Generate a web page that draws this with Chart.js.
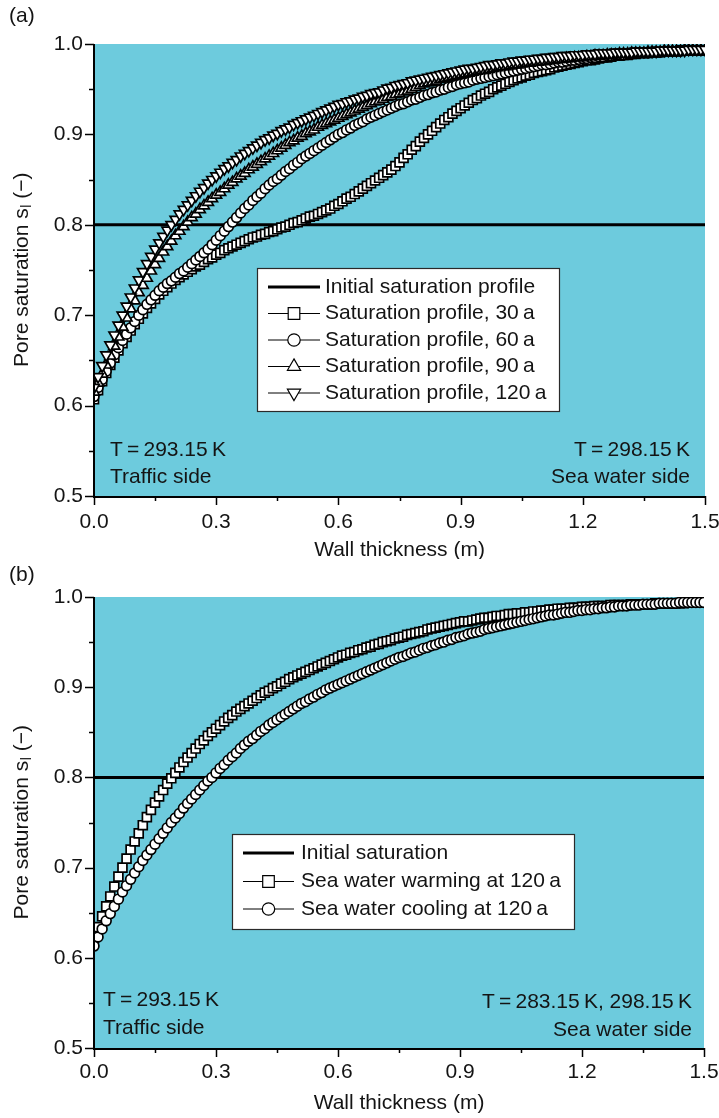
<!DOCTYPE html>
<html>
<head>
<meta charset="utf-8">
<title>Pore saturation profiles across the wall</title>
<script src="https://cdn.jsdelivr.net/npm/chart.js@4.4.1/dist/chart.umd.min.js"></script>
<style>
  html, body { margin: 0; padding: 0; background: #ffffff; }
  canvas { display: block; }
</style>
</head>
<body>
<canvas id="panelA" width="719" height="559"></canvas>
<canvas id="panelB" width="719" height="559"></canvas>
<script>
// Wall depth (m) of the computed profile nodes, traffic side = 0
const depth = [
  0.00,0.01,0.02,0.03,0.04,0.05,0.06,0.07,0.08,0.09,
  0.10,0.11,0.12,0.13,0.14,0.15,0.16,0.17,0.18,0.19,
  0.20,0.21,0.22,0.23,0.24,0.25,0.26,0.27,0.28,0.29,
  0.30,0.31,0.32,0.33,0.34,0.35,0.36,0.37,0.38,0.39,
  0.40,0.41,0.42,0.43,0.44,0.45,0.46,0.47,0.48,0.49,
  0.50,0.51,0.52,0.53,0.54,0.55,0.56,0.57,0.58,0.59,
  0.60,0.61,0.62,0.63,0.64,0.65,0.66,0.67,0.68,0.69,
  0.70,0.71,0.72,0.73,0.74,0.75,0.76,0.77,0.78,0.79,
  0.80,0.81,0.82,0.83,0.84,0.85,0.86,0.87,0.88,0.89,
  0.90,0.91,0.92,0.93,0.94,0.95,0.96,0.97,0.98,0.99,
  1.00,1.01,1.02,1.03,1.04,1.05,1.06,1.07,1.08,1.09,
  1.10,1.11,1.12,1.13,1.14,1.15,1.16,1.17,1.18,1.19,
  1.20,1.21,1.22,1.23,1.24,1.25,1.26,1.27,1.28,1.29,
  1.30,1.31,1.32,1.33,1.34,1.35,1.36,1.37,1.38,1.39,
  1.40,1.41,1.42,1.43,1.44,1.45,1.46,1.47,1.48,1.49,
  1.50
];

// Initial (uniform) saturation profile
const initialDepth = [0, 1.5];
const initialLevel = [0.8, 0.8];

// (a) saturation profiles after 30, 60, 90 and 120 years
const sat30 = [
  0.607,0.617,0.627,0.636,0.645,0.653,0.661,0.669,0.676,0.683,
  0.690,0.696,0.702,0.708,0.713,0.718,0.723,0.727,0.731,0.735,
  0.739,0.742,0.745,0.748,0.751,0.754,0.756,0.759,0.762,0.764,
  0.767,0.769,0.772,0.774,0.776,0.778,0.780,0.782,0.784,0.786,
  0.787,0.789,0.790,0.792,0.793,0.795,0.797,0.798,0.800,0.802,
  0.803,0.805,0.807,0.809,0.810,0.812,0.814,0.816,0.818,0.821,
  0.823,0.826,0.829,0.831,0.834,0.837,0.840,0.843,0.846,0.849,
  0.852,0.855,0.858,0.861,0.865,0.869,0.874,0.878,0.883,0.887,
  0.892,0.896,0.900,0.904,0.908,0.912,0.916,0.919,0.923,0.926,
  0.929,0.932,0.935,0.938,0.940,0.943,0.945,0.947,0.950,0.952,
  0.954,0.956,0.958,0.960,0.962,0.963,0.965,0.966,0.968,0.969,
  0.970,0.971,0.972,0.974,0.975,0.976,0.977,0.978,0.979,0.980,
  0.981,0.982,0.982,0.983,0.984,0.985,0.985,0.986,0.987,0.987,
  0.988,0.988,0.989,0.989,0.990,0.990,0.990,0.991,0.991,0.991,
  0.992,0.992,0.992,0.992,0.993,0.993,0.993,0.993,0.993,0.993,
  0.993
];
const sat60 = [
  0.610,0.620,0.629,0.638,0.647,0.656,0.664,0.672,0.679,0.686,
  0.693,0.700,0.706,0.712,0.717,0.722,0.727,0.731,0.735,0.738,
  0.742,0.746,0.749,0.753,0.757,0.761,0.765,0.769,0.773,0.778,
  0.783,0.788,0.793,0.798,0.803,0.808,0.813,0.818,0.822,0.827,
  0.831,0.835,0.840,0.844,0.848,0.851,0.855,0.859,0.862,0.866,
  0.869,0.873,0.876,0.879,0.882,0.885,0.888,0.891,0.894,0.897,
  0.900,0.902,0.905,0.907,0.910,0.912,0.914,0.917,0.919,0.921,
  0.923,0.925,0.927,0.929,0.931,0.933,0.934,0.936,0.938,0.939,
  0.941,0.943,0.944,0.946,0.947,0.949,0.950,0.952,0.953,0.955,
  0.956,0.957,0.958,0.960,0.961,0.962,0.963,0.964,0.965,0.966,
  0.967,0.968,0.969,0.970,0.971,0.972,0.973,0.974,0.975,0.976,
  0.977,0.977,0.978,0.979,0.980,0.980,0.981,0.982,0.982,0.983,
  0.984,0.984,0.985,0.985,0.986,0.986,0.987,0.987,0.988,0.988,
  0.988,0.989,0.989,0.990,0.990,0.990,0.990,0.991,0.991,0.991,
  0.992,0.992,0.992,0.992,0.992,0.993,0.993,0.993,0.993,0.993,
  0.993
];
const sat90 = [
  0.615,0.625,0.635,0.645,0.655,0.666,0.676,0.687,0.697,0.707,
  0.716,0.725,0.733,0.741,0.749,0.756,0.763,0.770,0.776,0.782,
  0.788,0.793,0.798,0.803,0.808,0.812,0.817,0.821,0.825,0.829,
  0.833,0.836,0.840,0.844,0.847,0.851,0.854,0.857,0.861,0.864,
  0.867,0.870,0.873,0.876,0.879,0.882,0.885,0.888,0.891,0.893,
  0.896,0.898,0.901,0.903,0.905,0.908,0.910,0.912,0.914,0.916,
  0.918,0.920,0.922,0.924,0.926,0.928,0.930,0.932,0.934,0.936,
  0.937,0.939,0.941,0.942,0.944,0.945,0.947,0.948,0.950,0.952,
  0.954,0.956,0.957,0.958,0.959,0.961,0.962,0.963,0.964,0.965,
  0.966,0.967,0.968,0.969,0.970,0.971,0.971,0.972,0.973,0.974,
  0.975,0.975,0.976,0.977,0.977,0.978,0.979,0.979,0.980,0.980,
  0.981,0.981,0.982,0.982,0.983,0.983,0.984,0.984,0.985,0.985,
  0.985,0.986,0.986,0.987,0.987,0.987,0.988,0.988,0.988,0.989,
  0.989,0.989,0.990,0.990,0.990,0.990,0.991,0.991,0.991,0.991,
  0.992,0.992,0.992,0.992,0.992,0.993,0.993,0.993,0.993,0.993,
  0.993
];
const sat120 = [
  0.620,0.632,0.644,0.656,0.667,0.678,0.689,0.700,0.710,0.720,
  0.730,0.739,0.748,0.757,0.765,0.773,0.780,0.787,0.794,0.800,
  0.806,0.812,0.817,0.822,0.827,0.832,0.837,0.841,0.846,0.850,
  0.854,0.858,0.862,0.865,0.869,0.872,0.876,0.879,0.882,0.885,
  0.888,0.891,0.894,0.896,0.899,0.901,0.904,0.906,0.908,0.911,
  0.913,0.915,0.917,0.919,0.921,0.923,0.925,0.927,0.929,0.931,
  0.933,0.934,0.936,0.937,0.939,0.940,0.942,0.943,0.945,0.946,
  0.947,0.949,0.951,0.952,0.954,0.955,0.956,0.957,0.959,0.960,
  0.961,0.962,0.963,0.964,0.965,0.966,0.967,0.968,0.969,0.970,
  0.971,0.972,0.973,0.973,0.974,0.975,0.976,0.977,0.977,0.978,
  0.979,0.979,0.980,0.981,0.981,0.982,0.982,0.983,0.983,0.984,
  0.984,0.985,0.985,0.986,0.986,0.987,0.987,0.987,0.988,0.988,
  0.988,0.989,0.989,0.989,0.990,0.990,0.990,0.990,0.991,0.991,
  0.991,0.991,0.991,0.992,0.992,0.992,0.992,0.992,0.992,0.993,
  0.993,0.993,0.993,0.993,0.993,0.993,0.994,0.994,0.994,0.994,
  0.994
];

// (b) profiles at 120 years for a warmer and a cooler sea
const satWarming = [
  0.622,0.634,0.646,0.657,0.668,0.679,0.690,0.700,0.710,0.720,
  0.729,0.738,0.747,0.756,0.764,0.772,0.779,0.786,0.793,0.799,
  0.805,0.811,0.817,0.822,0.827,0.832,0.837,0.841,0.846,0.850,
  0.854,0.858,0.862,0.866,0.869,0.873,0.876,0.879,0.882,0.885,
  0.888,0.891,0.894,0.896,0.899,0.901,0.904,0.906,0.909,0.911,
  0.913,0.915,0.917,0.919,0.921,0.923,0.925,0.927,0.929,0.931,
  0.933,0.935,0.936,0.938,0.939,0.941,0.942,0.944,0.945,0.947,
  0.948,0.950,0.951,0.952,0.954,0.955,0.956,0.958,0.959,0.960,
  0.961,0.962,0.964,0.965,0.966,0.967,0.968,0.969,0.970,0.971,
  0.972,0.973,0.973,0.974,0.975,0.976,0.977,0.977,0.978,0.979,
  0.979,0.980,0.981,0.981,0.982,0.982,0.983,0.983,0.984,0.984,
  0.985,0.985,0.986,0.986,0.987,0.987,0.987,0.988,0.988,0.988,
  0.989,0.989,0.989,0.990,0.990,0.990,0.990,0.991,0.991,0.991,
  0.991,0.991,0.992,0.992,0.992,0.992,0.992,0.992,0.993,0.993,
  0.993,0.993,0.993,0.993,0.993,0.993,0.994,0.994,0.994,0.994,
  0.994
];
const satCooling = [
  0.613,0.623,0.632,0.641,0.649,0.657,0.665,0.673,0.680,0.687,
  0.694,0.701,0.708,0.714,0.720,0.726,0.732,0.738,0.744,0.750,
  0.755,0.760,0.766,0.771,0.776,0.781,0.786,0.791,0.796,0.800,
  0.805,0.810,0.814,0.819,0.823,0.827,0.832,0.836,0.840,0.843,
  0.847,0.851,0.854,0.858,0.861,0.864,0.867,0.870,0.873,0.876,
  0.879,0.882,0.884,0.887,0.889,0.892,0.894,0.897,0.899,0.901,
  0.903,0.905,0.907,0.909,0.911,0.913,0.915,0.917,0.919,0.921,
  0.923,0.925,0.927,0.929,0.931,0.933,0.934,0.936,0.938,0.939,
  0.941,0.943,0.944,0.946,0.947,0.949,0.950,0.952,0.953,0.955,
  0.956,0.957,0.959,0.960,0.961,0.962,0.964,0.965,0.966,0.967,
  0.968,0.969,0.970,0.971,0.972,0.973,0.974,0.975,0.976,0.977,
  0.978,0.979,0.980,0.980,0.981,0.982,0.983,0.983,0.984,0.985,
  0.985,0.986,0.986,0.987,0.987,0.988,0.988,0.989,0.989,0.990,
  0.990,0.990,0.991,0.991,0.991,0.992,0.992,0.992,0.992,0.993,
  0.993,0.993,0.993,0.993,0.994,0.994,0.994,0.994,0.994,0.994,
  0.994
];

// Axis ranges and tick steps
const xRange = [0, 1.5];
const yRange = [0.5, 1.0];
const xMinorStep = 0.15, xMajorStep = 0.3;
const yMinorStep = 0.05, yMajorStep = 0.1;

const FONT = "'Liberation Sans', Arial, Helvetica, sans-serif";
const INK = '#141414';
const PLOT_BG = '#6dcbdd';
const TS = '\u2009'; // thin space

const MARK = {
  square:   { pointStyle: 'rect',     rotation: 0,   r: 6.3, legendR: 8.2 },
  circle:   { pointStyle: 'circle',   rotation: 0,   r: 4.9, legendR: 6.2 },
  triUp:    { pointStyle: 'triangle', rotation: 0,   r: 6.2, legendR: 7.6 },
  triDown:  { pointStyle: 'triangle', rotation: 180, r: 6.2, legendR: 7.6 }
};

function xy(xs, ys) { return xs.map((x, i) => ({ x: x, y: ys[i] })); }

function profile(label, ys, mark, order) {
  return {
    label: label,
    data: xy(depth, ys),
    order: order,
    borderColor: '#000',
    borderWidth: 1,
    tension: 0,
    pointStyle: mark.pointStyle,
    pointRotation: mark.rotation,
    pointRadius: mark.r,
    pointHoverRadius: mark.r,
    pointBackgroundColor: '#ffffff',
    pointBorderColor: '#000',
    pointBorderWidth: 1.7
  };
}

function initialProfile(label) {
  return {
    label: label,
    data: xy(initialDepth, initialLevel),
    order: 10,
    borderColor: '#000',
    borderWidth: 3,
    pointRadius: 0,
    pointHoverRadius: 0
  };
}

function isMultiple(v, step) {
  const q = v / step;
  return Math.abs(q - Math.round(q)) < 1e-6;
}

// Plot background, axes with major/minor ticks, axis titles, legend and notes
function decorations(spec) {
  return {
    id: 'decor' + spec.letter,
    beforeDatasetsDraw(chart) {
      const a = chart.chartArea, ctx = chart.ctx;
      ctx.save();
      ctx.fillStyle = PLOT_BG;
      ctx.fillRect(a.left, a.top, a.right - a.left, a.bottom - a.top);
      ctx.restore();
    },
    afterDraw(chart) {
      const a = chart.chartArea, ctx = chart.ctx;
      const sx = chart.scales.x, sy = chart.scales.y;
      ctx.save();

      // axis lines
      ctx.strokeStyle = '#000';
      ctx.lineWidth = 2;
      ctx.beginPath();
      ctx.moveTo(a.left, a.top);
      ctx.lineTo(a.left, a.bottom + 1);
      ctx.lineTo(a.right, a.bottom + 1);
      ctx.stroke();

      // tick marks
      ctx.lineWidth = 1.5;
      ctx.beginPath();
      sy.ticks.forEach(t => {
        const p = Math.round(sy.getPixelForValue(t.value)) + 0.5;
        const len = isMultiple(t.value, yMajorStep) ? 9 : 5;
        ctx.moveTo(a.left - len, p);
        ctx.lineTo(a.left, p);
      });
      sx.ticks.forEach(t => {
        const p = Math.round(sx.getPixelForValue(t.value)) + 0.5;
        const len = isMultiple(t.value, xMajorStep) ? 9 : 5;
        ctx.moveTo(p, a.bottom);
        ctx.lineTo(p, a.bottom + len);
      });
      ctx.stroke();

      ctx.fillStyle = INK;
      ctx.textBaseline = 'middle';

      // panel letter
      ctx.font = '21px ' + FONT;
      ctx.textAlign = 'left';
      ctx.fillText('(' + spec.letter + ')', 9, 16);

      // x axis title
      ctx.textAlign = 'center';
      ctx.fillText('Wall thickness (m)', (a.left + a.right) / 2, a.bottom + spec.xTitleGap);

      // y axis title with subscript
      ctx.save();
      ctx.translate(22, (a.top + a.bottom) / 2);
      ctx.rotate(-Math.PI / 2);
      const p1 = 'Pore saturation s', p2 = 'l', p3 = ' (\u2212)';
      ctx.font = '21px ' + FONT;
      const w1 = ctx.measureText(p1).width, w3 = ctx.measureText(p3).width;
      ctx.font = '14px ' + FONT;
      const w2 = ctx.measureText(p2).width;
      let x0 = -(w1 + w2 + w3) / 2;
      ctx.textAlign = 'left';
      ctx.font = '21px ' + FONT;
      ctx.fillText(p1, x0, 0);
      ctx.font = '14px ' + FONT;
      ctx.fillText(p2, x0 + w1 + 0.5, 5);
      ctx.font = '21px ' + FONT;
      ctx.fillText(p3, x0 + w1 + w2 + 0.5, 0);
      ctx.restore();

      // side notes
      ctx.font = '21px ' + FONT;
      spec.notes.forEach(n => {
        ctx.textAlign = n.align;
        ctx.fillText(n.text, n.x, n.y);
      });

      // legend
      const L = spec.legend;
      ctx.fillStyle = '#ffffff';
      ctx.fillRect(L.x, L.y, L.w, L.h);
      ctx.strokeStyle = '#2a2a2a';
      ctx.lineWidth = 1.2;
      ctx.strokeRect(L.x + 0.5, L.y + 0.5, L.w, L.h);
      chart.data.datasets.forEach((ds, i) => {
        const rowY = L.rows[i];
        ctx.strokeStyle = '#000';
        ctx.lineWidth = ds.borderWidth;
        ctx.beginPath();
        ctx.moveTo(L.lineX0, rowY);
        ctx.lineTo(L.lineX1, rowY);
        ctx.stroke();
        const mk = spec.legendMarks[i];
        if (mk) {
          ctx.fillStyle = '#ffffff';
          ctx.strokeStyle = '#000';
          ctx.lineWidth = 1.2;
          Chart.helpers.drawPoint(ctx, {
            pointStyle: mk.pointStyle, radius: mk.legendR,
            rotation: mk.rotation, borderWidth: 1.2
          }, (L.lineX0 + L.lineX1) / 2, rowY);
        }
        ctx.fillStyle = INK;
        ctx.font = '21px ' + FONT;
        ctx.textAlign = 'left';
        ctx.fillText(ds.label, L.textX, rowY);
      });
      ctx.restore();
    }
  };
}

function makePanel(canvasId, datasets, spec) {
  return new Chart(document.getElementById(canvasId), {
    type: 'line',
    data: { datasets: datasets },
    options: {
      responsive: false,
      animation: false,
      devicePixelRatio: 1,
      events: [],
      layout: { padding: { top: spec.top, right: spec.right, left: 0, bottom: 0 } },
      plugins: { legend: { display: false }, tooltip: { enabled: false } },
      scales: {
        x: {
          type: 'linear', min: xRange[0], max: xRange[1],
          grid: { display: false, drawTicks: false },
          border: { display: false },
          ticks: {
            stepSize: xMinorStep, autoSkip: false, maxRotation: 0,
            padding: spec.xTickPad, color: INK,
            font: { family: FONT, size: 21 },
            callback: v => isMultiple(v, xMajorStep) ? v.toFixed(1) : ''
          },
          afterFit: s => {
            s.height = spec.bottom;
            s.paddingLeft = 0; s.paddingRight = 0;
          }
        },
        y: {
          type: 'linear', min: yRange[0], max: yRange[1],
          grid: { display: false, drawTicks: false },
          border: { display: false },
          ticks: {
            stepSize: yMinorStep, autoSkip: false,
            padding: 11, color: INK,
            font: { family: FONT, size: 21 },
            callback: v => isMultiple(v, yMajorStep) ? v.toFixed(1) : ''
          },
          afterFit: s => {
            s.width = 94;
            s.paddingTop = 0; s.paddingBottom = 0;
          }
        }
      }
    },
    plugins: [decorations(spec)]
  });
}

// Panel (a)
makePanel('panelA', [
  initialProfile('Initial saturation profile'),
  profile('Saturation profile, 30' + TS + 'a', sat30, MARK.square, 4),
  profile('Saturation profile, 60' + TS + 'a', sat60, MARK.circle, 3),
  profile('Saturation profile, 90' + TS + 'a', sat90, MARK.triUp, 2),
  profile('Saturation profile, 120' + TS + 'a', sat120, MARK.triDown, 1)
], {
  letter: 'a', top: 44, right: 14, bottom: 63, xTickPad: 14, xTitleGap: 54,
  legend: { x: 257, y: 268, w: 302, h: 143, lineX0: 268, lineX1: 320, textX: 325,
            rows: [287, 313.5, 340, 366.5, 393] },
  legendMarks: [null, MARK.square, MARK.circle, MARK.triUp, MARK.triDown],
  notes: [
    { text: 'T' + TS + '=' + TS + '293.15' + TS + 'K', x: 110, y: 450, align: 'left' },
    { text: 'Traffic side', x: 110, y: 477, align: 'left' },
    { text: 'T' + TS + '=' + TS + '298.15' + TS + 'K', x: 690, y: 450, align: 'right' },
    { text: 'Sea water side', x: 690, y: 477, align: 'right' }
  ]
});

// Panel (b)
makePanel('panelB', [
  initialProfile('Initial saturation'),
  profile('Sea water warming at 120' + TS + 'a', satWarming, MARK.square, 2),
  profile('Sea water cooling at 120' + TS + 'a', satCooling, MARK.circle, 1)
], {
  letter: 'b', top: 38, right: 15, bottom: 70, xTickPad: 12, xTitleGap: 55,
  legend: { x: 232, y: 275, w: 342, h: 95, lineX0: 243, lineX1: 294, textX: 301,
            rows: [294, 322.5, 350] },
  legendMarks: [null, MARK.square, MARK.circle],
  notes: [
    { text: 'T' + TS + '=' + TS + '293.15' + TS + 'K', x: 103, y: 441, align: 'left' },
    { text: 'Traffic side', x: 103, y: 469, align: 'left' },
    { text: 'T' + TS + '=' + TS + '283.15' + TS + 'K, 298.15' + TS + 'K', x: 692, y: 443, align: 'right' },
    { text: 'Sea water side', x: 692, y: 471, align: 'right' }
  ]
});
</script>
</body>
</html>
